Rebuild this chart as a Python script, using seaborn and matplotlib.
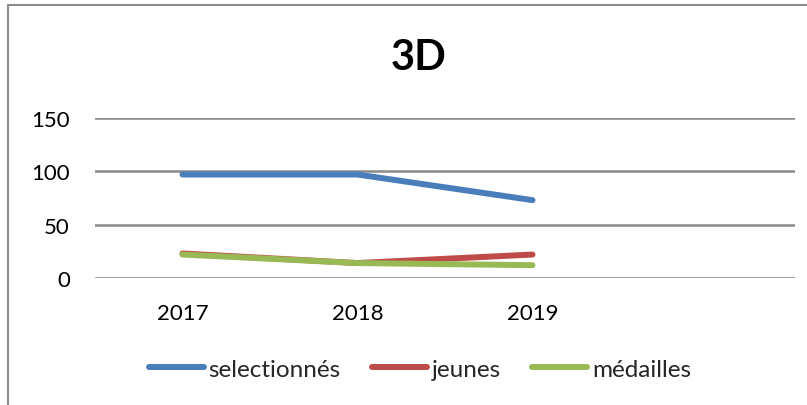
import matplotlib
matplotlib.use("Agg")
import matplotlib.pyplot as plt
import seaborn as sns
import pandas as pd
from matplotlib.lines import Line2D

years = ["2017", "2018", "2019"]
selectionnes = [97, 97, 73]
jeunes = [23, 14, 22]
medailles = [22, 14, 12]
series_names = ["selectionnés", "jeunes", "médailles"]
colors = ["#4A7EBB", "#BE4B48", "#98B954"]
y_ticks = [0, 50, 100, 150]

df = pd.DataFrame({
    "année": years * 3,
    "valeur": selectionnes + jeunes + medailles,
    "série": [series_names[0]] * 3 + [series_names[1]] * 3 + [series_names[2]] * 3,
})

sns.set_theme(style="white")
plt.rcParams["font.family"] = ["Lato", "DejaVu Sans"]

fig = plt.figure(figsize=(8.07, 4.06), dpi=100)
ax = fig.add_axes([95 / 807, 1 - 279 / 406, 700 / 807, 160 / 406])

sns.lineplot(data=df, x="année", y="valeur", hue="série", palette=colors,
             linewidth=4.3, ax=ax, legend=False, sort=False,
             solid_capstyle="round")

ax.set_xlim(-0.5, 3.5)
ax.set_ylim(0, 150)
ax.set_yticks(y_ticks)
ax.set_yticklabels([str(v) for v in y_ticks])
ax.set_xlabel("")
ax.set_ylabel("")
for s in ax.spines.values():
    s.set_visible(False)
ax.grid(False)
for v in y_ticks:
    ax.axhline(v, color="#898989", linewidth=1.8, zorder=0)

ax.tick_params(axis="y", length=0, pad=18, labelsize=16, labelcolor="black")
ax.tick_params(axis="x", length=0, pad=18, labelsize=16, labelcolor="black")

fig.text(419 / 807, 1 - 58 / 406, "3D", fontsize=30, fontweight="bold",
         ha="center", va="center", color="black")

handles = [Line2D([0], [0], color=c, linewidth=4.3, solid_capstyle="round") for c in colors]
fig.legend(handles, series_names, loc="center", bbox_to_anchor=(420 / 807, 1 - 370 / 406),
           ncol=3, frameon=False, fontsize=17.5, handlelength=2.25, handletextpad=0.2,
           columnspacing=1.3, borderpad=0)

# chart border
fig.add_artist(Line2D([8 / 807, 8 / 807], [1 - 6 / 406, 0], transform=fig.transFigure,
                      color="#8C8C8C", linewidth=1.5))
fig.add_artist(Line2D([8 / 807, 1], [1 - 6 / 406, 1 - 6 / 406], transform=fig.transFigure,
                      color="#8C8C8C", linewidth=1.5))

fig.savefig("out.png", dpi=100, facecolor="white")
